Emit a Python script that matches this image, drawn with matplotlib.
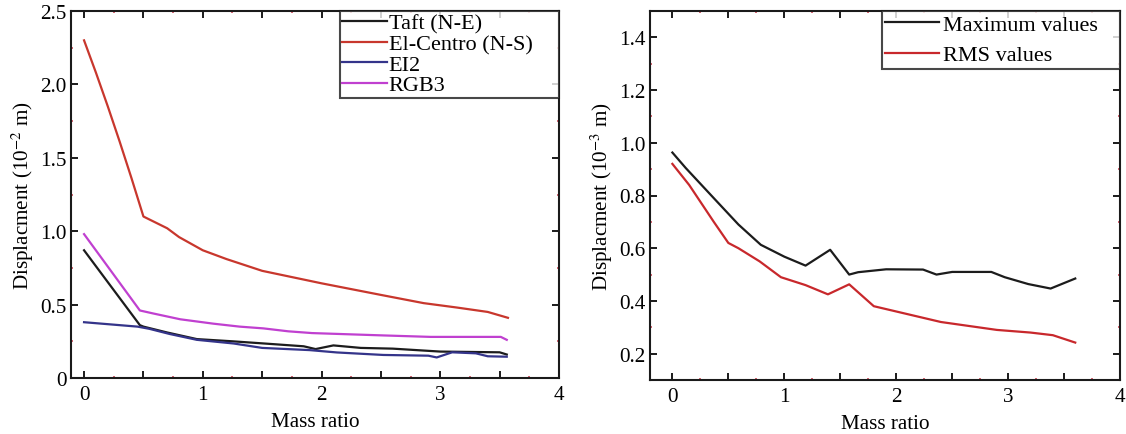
import matplotlib
matplotlib.use("Agg")
import matplotlib.pyplot as plt
from matplotlib.ticker import MultipleLocator, FuncFormatter

plt.rcParams['font.family'] = ['Liberation Serif', 'DejaVu Serif']
plt.rcParams['mathtext.fontset'] = 'stix'

# ---- Left panel data (displacement, 10^-2 m) ----
taft_x = [0, 0.47, 0.5, 0.7, 0.95, 1.25, 1.5, 1.85, 1.95, 2.1, 2.33, 2.6, 2.8, 3.0, 3.5, 3.56]
taft_y = [0.87, 0.36, 0.35, 0.31, 0.265, 0.25, 0.236, 0.216, 0.197, 0.222, 0.205, 0.20, 0.19, 0.18, 0.175, 0.16]

elc_x = [0, 0.1, 0.2, 0.3, 0.4, 0.5, 0.6, 0.7, 0.8, 1.0, 1.2, 1.5, 2.0, 2.5, 2.86, 3.14, 3.4, 3.57]
elc_y = [2.30, 2.08, 1.85, 1.61, 1.36, 1.10, 1.06, 1.02, 0.96, 0.87, 0.81, 0.73, 0.645, 0.566, 0.51, 0.48, 0.45, 0.41]

ei2_x = [0, 0.15, 0.45, 0.55, 0.72, 0.95, 1.26, 1.5, 1.9, 2.13, 2.52, 2.9, 2.97, 3.1, 3.3, 3.4, 3.56]
ei2_y = [0.38, 0.37, 0.35, 0.335, 0.30, 0.26, 0.235, 0.205, 0.19, 0.174, 0.157, 0.152, 0.14, 0.175, 0.168, 0.148, 0.145]

rgb_x = [0, 0.47, 0.58, 0.81, 1.09, 1.31, 1.51, 1.72, 1.92, 2.52, 2.92, 3.51, 3.56]
rgb_y = [0.98, 0.46, 0.44, 0.40, 0.37, 0.35, 0.338, 0.318, 0.306, 0.29, 0.28, 0.28, 0.26]

left_labels = ['Taft (N-E)', 'El-Centro (N-S)', 'EI2', 'RGB3']

# ---- Right panel data (displacement, 10^-3 m) ----
max_x = [0, 0.12, 0.37, 0.59, 0.79, 1.0, 1.19, 1.41, 1.58, 1.66, 1.91, 2.24, 2.36, 2.5, 2.85, 2.97, 3.18, 3.38, 3.6]
max_y = [0.963, 0.904, 0.79, 0.69, 0.613, 0.568, 0.534, 0.594, 0.50, 0.509, 0.52, 0.519, 0.50, 0.51, 0.51, 0.49, 0.464, 0.447, 0.485]

rms_x = [0, 0.15, 0.37, 0.5, 0.59, 0.78, 0.97, 1.19, 1.39, 1.58, 1.8, 2.0, 2.4, 2.9, 3.2, 3.4, 3.6]
rms_y = [0.92, 0.84, 0.70, 0.62, 0.60, 0.55, 0.49, 0.46, 0.425, 0.463, 0.38, 0.36, 0.32, 0.29, 0.28, 0.27, 0.242]

right_labels = ['Maximum values', 'RMS values']

FS = 15.2
LFS = 16
W, H = 1126, 435
fig = plt.figure(figsize=(W / 100, H / 100), dpi=100)

def box(l, r, t, b):
    return [l / W, (H - b) / H, (r - l) / W, (b - t) / H]

axL = fig.add_axes(box(71, 559, 12, 379))
axR = fig.add_axes(box(650, 1120, 12, 381))

lw = 1.6
axL.plot(taft_x, taft_y, color='#1c1c1c', lw=lw, label=left_labels[0])
axL.plot(elc_x, elc_y, color='#c8372d', lw=lw, label=left_labels[1])
axL.plot(ei2_x, ei2_y, color='#34348a', lw=lw, label=left_labels[2])
axL.plot(rgb_x, rgb_y, color='#c040d0', lw=lw, label=left_labels[3])

axR.plot(max_x, max_y, color='#1c1c1c', lw=lw, label=right_labels[0])
axR.plot(rms_x, rms_y, color='#c8282c', lw=lw, label=right_labels[1])

axL.set_xlim(-0.11, 4.0)
axL.set_ylim(0, 2.5)
axR.set_xlim(-0.2, 4.0)
axR.set_ylim(0.1, 1.5)

int_fmt = FuncFormatter(lambda v, p: f'{v:.0f}' if abs(v - round(v)) < 1e-6 else '')
axL.xaxis.set_major_locator(MultipleLocator(0.5))
axL.xaxis.set_major_formatter(int_fmt)
axL.xaxis.set_minor_locator(MultipleLocator(0.25))
axL.yaxis.set_major_locator(MultipleLocator(0.5))
axL.yaxis.set_major_formatter(FuncFormatter(lambda v, p: '0' if abs(v) < 1e-6 else f'{v:.1f}'))
axL.yaxis.set_minor_locator(MultipleLocator(0.25))

axR.xaxis.set_major_locator(MultipleLocator(0.5))
axR.xaxis.set_major_formatter(int_fmt)
axR.xaxis.set_minor_locator(MultipleLocator(0.25))
axR.yaxis.set_major_locator(MultipleLocator(0.2))
axR.yaxis.set_major_formatter(FuncFormatter(lambda v, p: f'{v:.1f}'))
axR.yaxis.set_minor_locator(MultipleLocator(0.1))

for ax in (axL, axR):
    for s in ax.spines.values():
        s.set_linewidth(1.5)
        s.set_color('#1a1a1a')
    ax.tick_params(which='major', direction='in', length=5, width=1.4, top=True, right=True,
                   labelsize=FS, pad=3, color='#1a1a1a')
    ax.tick_params(axis='x', which='major', pad=5)
    ax.tick_params(which='minor', direction='in', length=1.5, width=1.2, top=True, right=True,
                   color='#d04858')
    ax.set_xlabel('Mass ratio', fontsize=FS, labelpad=6)

axL.set_ylabel('Displacment (10$^{-2}$ m)', fontsize=FS, labelpad=3)
axR.set_ylabel('Displacment (10$^{-3}$ m)', fontsize=FS, labelpad=3)

legL = axL.legend(loc='upper left', bbox_to_anchor=(0.551, 0, 0.449, 1.0), mode='expand',
                  borderaxespad=0, fontsize=LFS, frameon=True, fancybox=False,
                  handlelength=2.0, handletextpad=0.1, borderpad=0.1, labelspacing=0.0)
legL.get_frame().set_edgecolor('#1a1a1a')
legL.get_frame().set_linewidth(1.5)

legR = axR.legend(loc='upper left', bbox_to_anchor=(0.493, 0, 0.507, 1.0), mode='expand',
                  borderaxespad=0, fontsize=LFS, frameon=True, fancybox=False,
                  handlelength=2.45, handletextpad=0.15, borderpad=0.15, labelspacing=0.45)
legR.get_frame().set_edgecolor('#1a1a1a')
legR.get_frame().set_linewidth(1.5)

fig.savefig('out.png', dpi=100)
